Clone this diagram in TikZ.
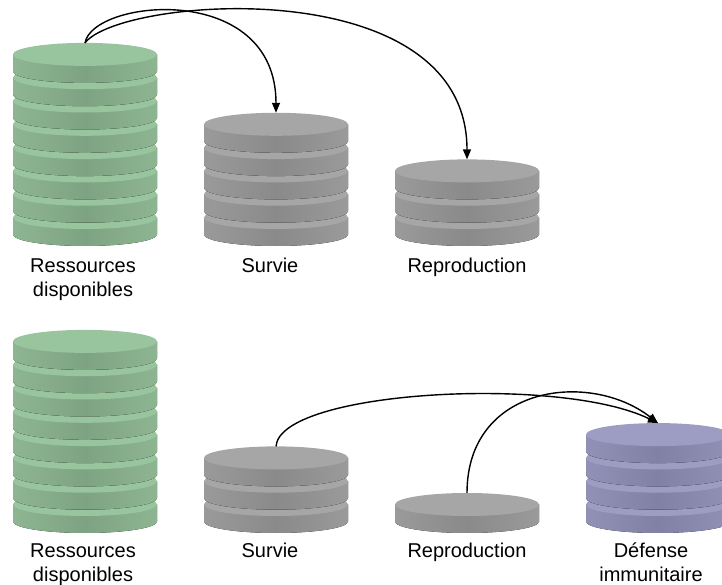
\documentclass[tikz,border=0pt]{standalone}
\usepackage{fontspec}
\setmainfont{Liberation Sans}
\usetikzlibrary{arrows.meta}

\definecolor{greentop}{RGB}{152,196,158}
\definecolor{greenside}{RGB}{126,163,130}
\definecolor{greenedge}{RGB}{142,181,146}
\definecolor{greytop}{RGB}{166,166,166}
\definecolor{greyside}{RGB}{138,138,138}
\definecolor{greyedge}{RGB}{154,154,154}
\definecolor{violettop}{RGB}{157,157,196}
\definecolor{violetside}{RGB}{129,129,166}
\definecolor{violetedge}{RGB}{145,145,183}

% #1 x, #2 bottom y, #3 coins, #4 colour, #5 name of the top point
\newcommand{\coinstack}[5]{%
  \foreach \k in {1,...,#3}{
    \pgfmathsetmacro{\cy}{#2+28.5+(\k-1)*23.3}
    \fill[left color=#4edge, right color=#4edge, middle color=#4side]
      (#1-72,\cy) -- (#1-72,\cy-17)
      arc[start angle=180, end angle=360, x radius=72, y radius=11.5]
      -- (#1+72,\cy) -- cycle;
    \fill[#4top] (#1,\cy) ellipse[x radius=72, y radius=11.5];
  }
  \coordinate (#5) at (#1,{#2+40+(#3-1)*23.3});
}

\tikzset{
  lbl/.style={align=center, inner sep=0pt, anchor=base, font=\fontsize{20}{24}\selectfont},
  flow/.style={-{Triangle[length=10pt,width=8pt]}, line width=1.4pt}
}

\begin{document}
\begin{tikzpicture}[x=1pt,y=1pt]
	\useasboundingbox (0,0) rectangle (722,585);
	\clip (0,0) rectangle (722,585);

	% before
	\coinstack{85}{339}{8}{green}{res1}
	\coinstack{276}{339}{5}{grey}{surv1}
	\coinstack{467}{339}{3}{grey}{repro1}

	\node[lbl] (res1lbl) at (83,288) {Ressources\\disponibles};
	\node[lbl] (surv1lbl) at (270,312) {Survie};
	\node[lbl] (repro1lbl) at (467,312) {Reproduction};

	\draw[flow] (res1) .. controls +(8,44) and +(0,132) .. (surv1);
	\draw[flow] (res1) .. controls +(35,46) and +(0,190) .. (repro1);

	% after
	\coinstack{85}{52}{8}{green}{res2}
	\coinstack{276}{52}{3}{grey}{surv2}
	\coinstack{467}{52}{1}{grey}{repro2}
	\coinstack{658}{52}{4}{violet}{def2}

	\node[lbl] (res2lbl) at (83,3) {Ressources\\disponibles};
	\node[lbl] (surv2lbl) at (270,27) {Survie};
	\node[lbl] (repro2lbl) at (467,27) {Reproduction};
	\node[lbl] (def2lbl) at (651,3) {Défense\\immunitaire};

	\draw[flow] (surv2) .. controls +(4,56) and +(-98,48) .. (def2);
	\draw[flow] (repro2) .. controls +(0,108) and +(-68,53) .. (def2);
\end{tikzpicture}
\end{document}
